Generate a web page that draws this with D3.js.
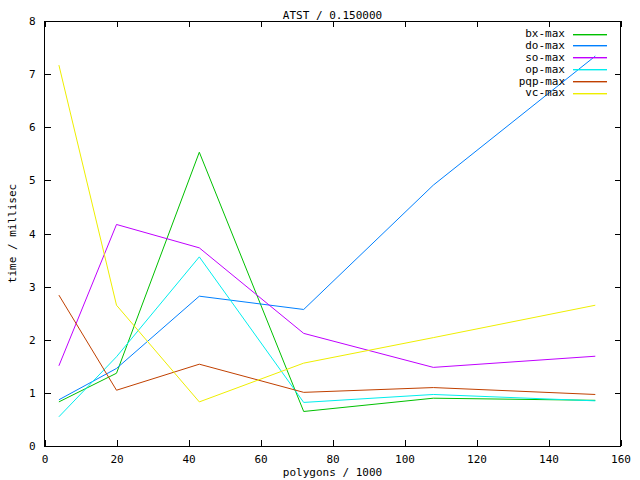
<!DOCTYPE html>
<html><head><meta charset="utf-8">
<script src="https://d3js.org/d3.v7.min.js"></script>
<style>body{margin:0;background:#fff}svg{display:block}text{font-family:"DejaVu Sans Mono",monospace;font-size:11px;fill:#000}</style>
</head><body><div id="c"></div>
<script>
const polygons = [4, 20, 43, 72, 108, 153];
const seriesNames = ["bx-max", "do-max", "so-max", "op-max", "pqp-max", "vc-max"];
const bxMax  = [0.83, 1.37, 5.53, 0.65, 0.90, 0.86];
const doMax  = [0.87, 1.46, 2.82, 2.57, 4.91, 7.34];
const soMax  = [1.51, 4.17, 3.73, 2.12, 1.48, 1.69];
const opMax  = [0.55, 1.68, 3.56, 0.82, 0.97, 0.85];
const pqpMax = [2.84, 1.05, 1.54, 1.01, 1.10, 0.97];
const vcMax  = [7.17, 2.65, 0.83, 1.56, 2.04, 2.65];
const xTicks = [0, 20, 40, 60, 80, 100, 120, 140, 160];
const yTicks = [0, 1, 2, 3, 4, 5, 6, 7, 8];
const colors = ["#00c000", "#0080ff", "#c000ff", "#00eeee", "#c04000", "#eeee00"];
const seriesValues = [bxMax, doMax, soMax, opMax, pqpMax, vcMax];

const W = 640, H = 480;
const L = 44.5, R = 620.5, T = 21, B = 446;
const svg = d3.select("#c").append("svg").attr("width", W).attr("height", H);
const x = d3.scaleLinear().domain([0, 160]).range([L, R]);
const y = d3.scaleLinear().domain([0, 8]).range([B, T]);

const tick = 6;
const gB = svg.append("g").attr("transform", `translate(0,${B})`)
  .call(d3.axisBottom(x).tickValues(xTicks).tickSize(-tick).tickPadding(9).tickFormat(d3.format("d")));
const gT = svg.append("g").attr("transform", `translate(0,${T})`)
  .call(d3.axisTop(x).tickValues(xTicks).tickSize(-tick).tickFormat(""));
const gL = svg.append("g").attr("transform", `translate(${L},0)`)
  .call(d3.axisLeft(y).tickValues(yTicks).tickSize(-tick).tickPadding(9).tickFormat(d3.format("d")));
const gR = svg.append("g").attr("transform", `translate(${R},0)`)
  .call(d3.axisRight(y).tickValues(yTicks).tickSize(-tick).tickFormat(""));
[gB, gT, gL, gR].forEach(g => {
  g.select(".domain").remove();
  g.selectAll("line").attr("stroke", "#000").attr("shape-rendering", "crispEdges");
  g.selectAll("text").attr("font-family", "DejaVu Sans Mono").attr("font-size", 11).attr("fill", "#000");
});

svg.append("rect").attr("x", L).attr("y", T).attr("width", R - L).attr("height", B - T)
  .attr("fill", "none").attr("stroke", "#000").attr("shape-rendering", "crispEdges");

const line = d3.line().x((d, i) => x(polygons[i])).y(d => y(d));
seriesValues.forEach((vals, k) => {
  svg.append("path").attr("d", line(vals)).attr("fill", "none")
    .attr("stroke", colors[k]).attr("stroke-width", 1);
});

seriesNames.forEach((name, k) => {
  const yy = 33.5 + k * 11.8;
  svg.append("text").attr("x", 565).attr("y", yy).attr("dy", "0.35em")
    .attr("text-anchor", "end").text(name);
  svg.append("rect").attr("x", 573).attr("width", 34).attr("y", Math.round(yy)).attr("height", 1.4)
    .attr("fill", colors[k]);
});

svg.append("text").attr("x", (L + R) / 2).attr("y", 15).attr("dy", "0.35em")
  .attr("text-anchor", "middle").text("ATST / 0.150000");
svg.append("text").attr("x", (L + R) / 2).attr("y", 472).attr("dy", "0.35em")
  .attr("text-anchor", "middle").text("polygons / 1000");
svg.append("text").attr("transform", `translate(12,${(T + B) / 2}) rotate(-90)`).attr("dy", "0.35em")
  .attr("text-anchor", "middle").text("time / millisec");
</script></body></html>
